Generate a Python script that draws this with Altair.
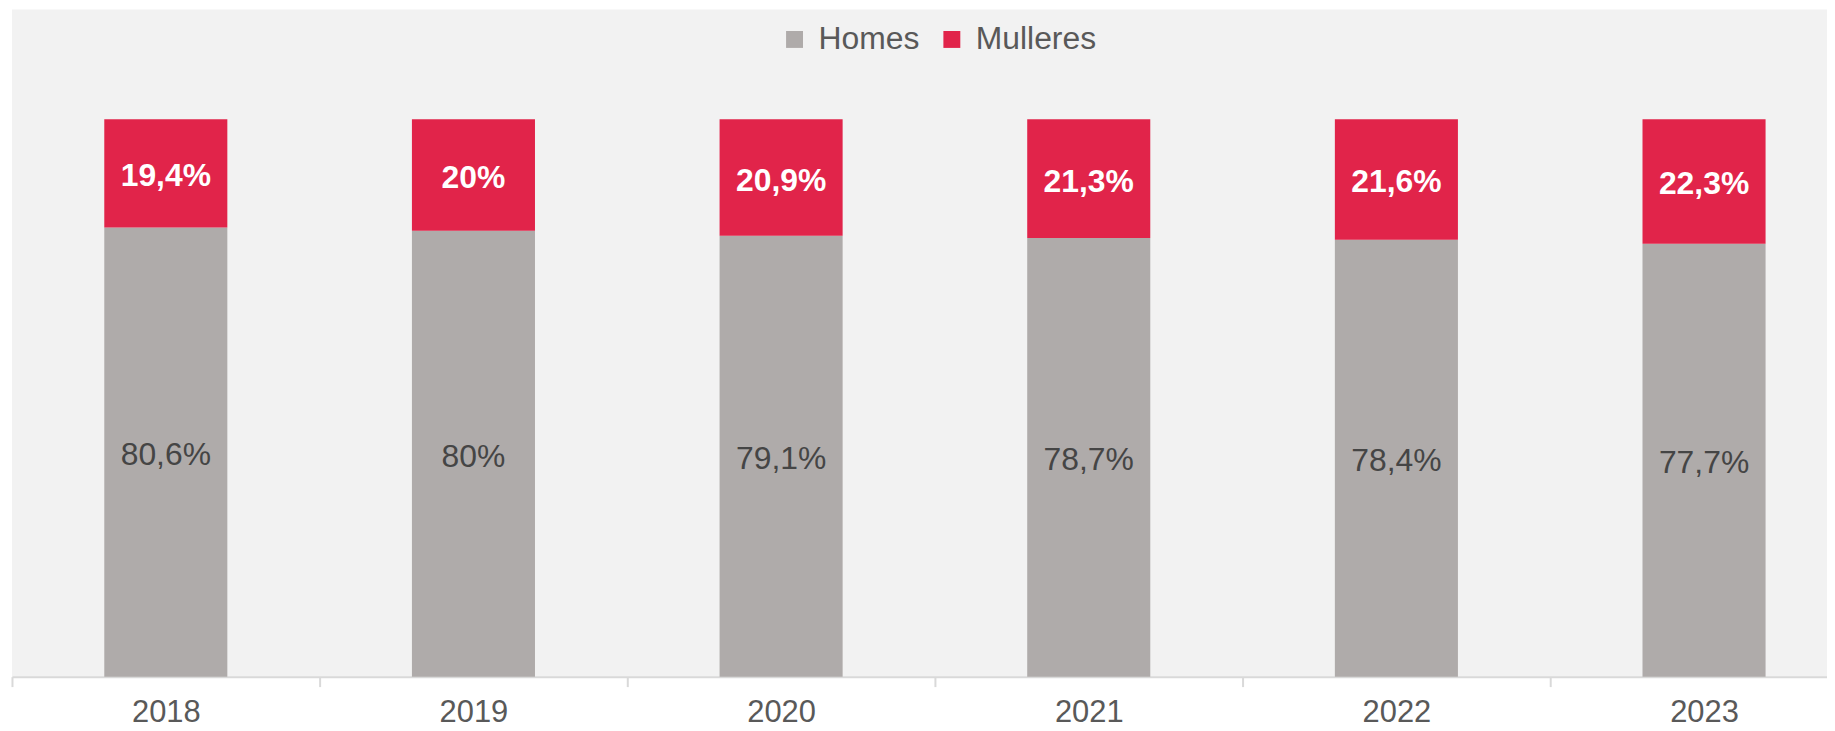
import altair as alt
import pandas as pd

years = ["2018", "2019", "2020", "2021", "2022", "2023"]
homes = [80.6, 80.0, 79.1, 78.7, 78.4, 77.7]
mulleres = [19.4, 20.0, 20.9, 21.3, 21.6, 22.3]
series = ["Homes", "Mulleres"]
colors = ["#afabaa", "#e1244a"]


def fmt(v):
    s = f"{v:.1f}".rstrip("0").rstrip(".")
    return s.replace(".", ",") + "%"


rows = []
for i, y in enumerate(years):
    rows.append({"year": y, "sex": "Homes", "value": homes[i], "ord": 0, "label": fmt(homes[i])})
    rows.append({"year": y, "sex": "Mulleres", "value": mulleres[i], "ord": 1, "label": fmt(mulleres[i])})
df = pd.DataFrame(rows)

FONT = "Liberation Sans"

xscale = alt.Scale(domain=years, range=[0, 1854], paddingInner=0, paddingOuter=0)
yscale = alt.Scale(domain=[0, 119.7])

base = alt.Chart(df)

bars = base.mark_bar(width=alt.RelativeBandSize(0.4)).encode(
    x=alt.X("year:N", scale=xscale, sort=years,
            axis=alt.Axis(title=None, labelAngle=0, tickBand="extent", domainColor="#d9d9d9",
                          domainWidth=2, tickColor="#d9d9d9", tickWidth=2, tickSize=10,
                          labelFontSize=31, labelColor="#595959", labelFont=FONT,
                          labelPadding=11, grid=False)),
    y=alt.Y("value:Q", stack="zero", scale=yscale, axis=None),
    color=alt.Color("sex:N", scale=alt.Scale(domain=series, range=colors),
                    legend=alt.Legend(title=None, orient="none", legendX=770, legendY=14,
                                      direction="horizontal", symbolType="square",
                                      symbolSize=289, symbolStrokeWidth=0, labelFontSize=32,
                                      labelColor="#595959", labelFont=FONT, labelOffset=8,
                                      columnPadding=16, padding=0)),
    order=alt.Order("ord:Q"),
)

stacked = base.transform_stack(
    stack="value", groupby=["year"], as_=["v0", "v1"], sort=[alt.SortField("ord")]
).transform_calculate(mid="(datum.v0 + datum.v1) / 2")

lab_h = stacked.transform_filter(alt.datum.sex == "Homes").mark_text(
    fontSize=32, color="#454545", font=FONT, baseline="middle", dy=3
).encode(
    x=alt.X("year:N", scale=xscale, sort=years),
    y=alt.Y("mid:Q", scale=yscale),
    text="label:N",
)

lab_m = stacked.transform_filter(alt.datum.sex == "Mulleres").mark_text(
    fontSize=32, color="white", font=FONT, fontWeight="bold", baseline="middle", dy=3
).encode(
    x=alt.X("year:N", scale=xscale, sort=years),
    y=alt.Y("mid:Q", scale=yscale),
    text="label:N",
)

chart = alt.layer(bars, lab_h, lab_m).properties(
    width=1823, height=670,
    background="white",
    padding={"left": 4, "top": 0, "right": 0, "bottom": 52},
    autosize=alt.AutoSizeParams(type="none"),
).configure_view(fill="#f2f2f2", stroke=None)

chart.save("out.html", embed_options={"renderer": "svg", "actions": False})
